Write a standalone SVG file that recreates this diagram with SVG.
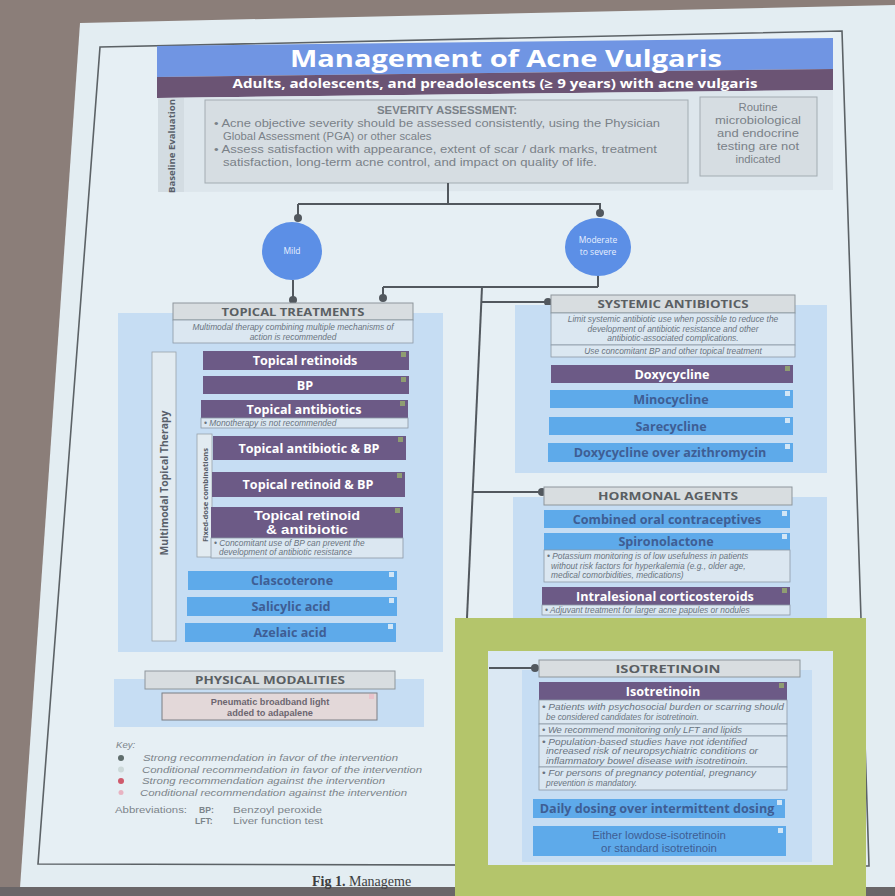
<svg xmlns="http://www.w3.org/2000/svg" width="895" height="896" viewBox="0 0 895 896">
<defs>
<style>
.ttl{font-family:"Open Sans","Liberation Sans",sans-serif;font-weight:700;fill:#fff;text-anchor:middle}
.hdr{fill:#d8dde0;stroke:#8e969b;stroke-width:1}
.hdrt{font-family:"Open Sans","Liberation Sans",sans-serif;font-weight:700;font-size:11px;fill:#5a5f63;text-anchor:middle}
.pur{fill:#6c5a86}
.blu{fill:#5eaaea}
.purt{font-family:"Open Sans","Liberation Sans",sans-serif;font-weight:700;font-size:12.6px;fill:#fff;text-anchor:middle}
.purt2{font-family:"Liberation Sans",Arial,sans-serif;font-weight:700;font-size:12.4px;fill:#fff;text-anchor:middle}
.blut{font-family:"Open Sans","Liberation Sans",sans-serif;font-weight:700;font-size:12.6px;fill:#3e5e94;text-anchor:middle}
.blur2{font-family:"Liberation Sans",Arial,sans-serif;font-size:11.4px;fill:#3e5e94;text-anchor:middle}
.note{fill:#dbe7f1;stroke:#8c9aa6;stroke-width:.8}
.notet{font-family:"Liberation Sans",Arial,sans-serif;font-style:italic;font-size:8.4px;fill:#6a7480}
.notec{text-anchor:middle}
.panel{fill:#c6ddf3}
.cn{stroke:#52585e;stroke-width:2;fill:none}
.dot{fill:#52585e}
.sqs{fill:#8f9d72}
.sqc{fill:#d2e6f6}
.body{font-family:"Liberation Sans",Arial,sans-serif;font-size:11.3px;fill:#7a8188}
.lbl{font-family:"Open Sans","Liberation Sans",sans-serif;font-weight:700;fill:#59606a;text-anchor:middle}
.key{font-family:"Liberation Sans",Arial,sans-serif;font-style:italic;font-size:9.6px;fill:#7c848a}
.abr{font-family:"Liberation Sans",Arial,sans-serif;font-size:8.6px;fill:#7c848a}
.circ{fill:#5c8fe6}
.circt{font-family:"Open Sans","Liberation Sans",sans-serif;font-size:8.5px;fill:#e8efff;text-anchor:middle}
</style>
</defs>

<!-- room behind the projected slide -->
<rect x="0" y="0" width="895" height="896" fill="#8b7e79"/>
<!-- slide paper -->
<polygon points="80,23 895,5 895,888 20,888" fill="#e3edf2"/>
<rect x="0" y="887" width="895" height="9" fill="#6a6668"/>
<!-- figure frame -->
<polygon points="100,47 842,31 869,866 38,864" fill="#e6eff4" stroke="#5c6266" stroke-width="1.6"/>

<!-- title banner -->
<g id="title">
  <polygon points="157,46 833,38 833,69 157,77" fill="#7095e3"/>
  <polygon points="157,77 833,69 833,90 157,98" fill="#6b5474"/>
  <text class="ttl" x="506" y="67" font-size="23" textLength="432" lengthAdjust="spacingAndGlyphs">Management of Acne Vulgaris</text>
  <text class="ttl" x="495" y="87.5" font-size="12" textLength="525" lengthAdjust="spacingAndGlyphs">Adults, adolescents, and preadolescents (≥ 9 years) with acne vulgaris</text>
</g>

<!-- baseline evaluation -->
<g id="baseline">
  <polygon points="158,98 833,90 833,190 158,192" fill="#dde6ec"/>
  <polygon points="158,98 184,98 184,192 158,192" fill="#d3dce2"/>
  <text class="lbl" font-size="9.6" transform="translate(175 146) rotate(-90)">Baseline Evaluation</text>
</g>
<g id="severity">
  <rect x="205" y="100" width="483" height="83" fill="#d6dde2" stroke="#a3acb2" stroke-width="1"/>
  <text class="body" x="447" y="114" text-anchor="middle" font-weight="700" fill="#6d747a" textLength="140" lengthAdjust="spacingAndGlyphs">SEVERITY ASSESSMENT:</text>
  <text class="body" x="214" y="127" textLength="446" lengthAdjust="spacingAndGlyphs">• Acne objective severity should be assessed consistently, using the Physician</text>
  <text class="body" x="223" y="140">Global Assessment (PGA) or other scales</text>
  <text class="body" x="214" y="153" textLength="443" lengthAdjust="spacingAndGlyphs">• Assess satisfaction with appearance, extent of scar / dark marks, treatment</text>
  <text class="body" x="223" y="166" textLength="374" lengthAdjust="spacingAndGlyphs">satisfaction, long-term acne control, and impact on quality of life.</text>
</g>
<g id="routine">
  <rect x="700" y="97" width="117" height="79" fill="#d6dde2" stroke="#a3acb2" stroke-width="1"/>
  <text class="body" text-anchor="middle" x="758" y="111">Routine</text>
  <text class="body" text-anchor="middle" x="758" y="124" textLength="86" lengthAdjust="spacingAndGlyphs">microbiological</text>
  <text class="body" text-anchor="middle" x="758" y="137" textLength="82" lengthAdjust="spacingAndGlyphs">and endocrine</text>
  <text class="body" text-anchor="middle" x="758" y="150" textLength="82" lengthAdjust="spacingAndGlyphs">testing are not</text>
  <text class="body" text-anchor="middle" x="758" y="163">indicated</text>
</g>

<!-- connectors -->
<g id="connectors">
  <path class="cn" d="M448 183 V203 M298 204 H601 M298 204 V217 M600 203 V213"/>
  <circle class="dot" cx="298" cy="218" r="4"/>
  <circle class="dot" cx="600" cy="213" r="4"/>
  <path class="cn" d="M293 280 V299"/>
  <circle class="dot" cx="293" cy="300" r="4"/>
  <path class="cn" d="M598 275 V287 M383 287 H598 M383 287 V297"/>
  <circle class="dot" cx="383" cy="298" r="4"/>
  <path class="cn" d="M482 287 L467 618"/>
  <path class="cn" d="M481 302 H547"/>
  <circle class="dot" cx="548" cy="302" r="4"/>
  <path class="cn" d="M473 492 H541"/>
  <circle class="dot" cx="542" cy="492" r="4"/>
</g>

<!-- severity branches -->
<g id="mild">
  <ellipse class="circ" cx="292" cy="251" rx="30" ry="29"/>
  <text class="circt" x="292" y="254">Mild</text>
</g>
<g id="moderate">
  <ellipse class="circ" cx="598" cy="247" rx="33" ry="29"/>
  <text class="circt" x="598" y="243">Moderate</text>
  <text class="circt" x="598" y="255">to severe</text>
</g>

<!-- topical treatments -->
<g id="topical">
  <rect class="panel" x="118" y="313" width="325" height="339"/>
  <rect class="hdr" x="173" y="303" width="240" height="17"/>
  <text class="hdrt" x="293" y="316" textLength="143" lengthAdjust="spacingAndGlyphs">TOPICAL TREATMENTS</text>
  <rect class="note" x="173" y="320" width="240" height="23"/>
  <text class="notet notec" x="293" y="330">Multimodal therapy combining multiple mechanisms of</text>
  <text class="notet notec" x="293" y="339.5">action is recommended</text>
  <rect x="152" y="352" width="24" height="289" fill="#e2ebf1" stroke="#98a2aa" stroke-width=".8"/>
  <text class="lbl" font-size="10.4" transform="translate(168 483) rotate(-90)">Multimodal Topical Therapy</text>
</g>
<g id="topical-retinoids">
  <rect class="pur" x="203" y="351" width="206" height="19"/>
  <rect class="sqs" x="401" y="352" width="5" height="5"/>
  <text class="purt" x="305" y="365">Topical retinoids</text>
</g>
<g id="bp">
  <rect class="pur" x="203" y="376" width="206" height="18"/>
  <rect class="sqs" x="401" y="377" width="5" height="5"/>
  <text class="purt" x="305" y="389.5">BP</text>
</g>
<g id="topical-antibiotics">
  <rect class="pur" x="201" y="400" width="207" height="18"/>
  <rect class="sqs" x="400" y="401" width="5" height="5"/>
  <text class="purt" x="304" y="413.5">Topical antibiotics</text>
  <rect class="note" x="201" y="418" width="207" height="10"/>
  <text class="notet" x="204" y="425.8">• Monotherapy is not recommended</text>
</g>
<g id="fixed-dose">
  <rect x="197" y="434" width="15" height="123" fill="#e2ebf1" stroke="#98a2aa" stroke-width=".8"/>
  <text class="lbl" font-size="7.6" transform="translate(207.5 495) rotate(-90)">Fixed-dose combinations</text>
</g>
<g id="antibiotic-bp">
  <rect class="pur" x="213" y="436" width="193" height="24"/>
  <rect class="sqs" x="398" y="437" width="5" height="5"/>
  <text class="purt" x="309" y="452.5">Topical antibiotic &amp; BP</text>
</g>
<g id="retinoid-bp">
  <rect class="pur" x="212" y="472" width="193" height="25"/>
  <rect class="sqs" x="397" y="473" width="5" height="5"/>
  <text class="purt" x="308" y="489">Topical retinoid &amp; BP</text>
</g>
<g id="retinoid-antibiotic">
  <rect class="pur" x="211" y="507" width="192" height="31"/>
  <rect class="sqs" x="395" y="508" width="5" height="5"/>
  <text class="purt2" x="307" y="519.5" textLength="106" lengthAdjust="spacingAndGlyphs">Topical retinoid</text>
  <text class="purt2" x="307" y="534" textLength="82" lengthAdjust="spacingAndGlyphs">&amp; antibiotic</text>
  <rect class="note" x="211" y="538" width="192" height="20"/>
  <text class="notet" x="214" y="546">• Concomitant use of BP can prevent the</text>
  <text class="notet" x="219" y="555">development of antibiotic resistance</text>
</g>
<g id="clascoterone">
  <rect class="blu" x="188" y="571" width="209" height="19"/>
  <rect class="sqc" x="389" y="572" width="5" height="5"/>
  <text class="blut" x="292" y="585">Clascoterone</text>
</g>
<g id="salicylic">
  <rect class="blu" x="187" y="597" width="210" height="19"/>
  <rect class="sqc" x="389" y="598" width="5" height="5"/>
  <text class="blut" x="291" y="611">Salicylic acid</text>
</g>
<g id="azelaic">
  <rect class="blu" x="185" y="623" width="211" height="19"/>
  <rect class="sqc" x="388" y="624" width="5" height="5"/>
  <text class="blut" x="290" y="637">Azelaic acid</text>
</g>

<!-- systemic antibiotics -->
<g id="systemic">
  <rect class="panel" x="515" y="305" width="312" height="168"/>
  <rect class="hdr" x="551" y="295" width="244" height="18"/>
  <text class="hdrt" x="673" y="308" textLength="151" lengthAdjust="spacingAndGlyphs">SYSTEMIC ANTIBIOTICS</text>
  <rect class="note" x="551" y="313" width="244" height="32"/>
  <text class="notet notec" x="673" y="322">Limit systemic antibiotic use when possible to reduce the</text>
  <text class="notet notec" x="673" y="331.5">development of antibiotic resistance and other</text>
  <text class="notet notec" x="673" y="341">antibiotic-associated complications.</text>
  <rect class="note" x="551" y="345" width="244" height="12"/>
  <text class="notet notec" x="673" y="353.5">Use concomitant BP and other topical treatment</text>
</g>
<g id="doxycycline">
  <rect class="pur" x="551" y="365" width="242" height="18"/>
  <rect class="sqs" x="785" y="366" width="5" height="5"/>
  <text class="purt" x="672" y="378.5">Doxycycline</text>
</g>
<g id="minocycline">
  <rect class="blu" x="550" y="390" width="243" height="18"/>
  <rect class="sqc" x="785" y="391" width="5" height="5"/>
  <text class="blut" x="671" y="403.5">Minocycline</text>
</g>
<g id="sarecycline">
  <rect class="blu" x="549" y="417" width="244" height="18"/>
  <rect class="sqc" x="785" y="418" width="5" height="5"/>
  <text class="blut" x="671" y="430.5">Sarecycline</text>
</g>
<g id="doxy-azithro">
  <rect class="blu" x="548" y="443" width="245" height="19"/>
  <rect class="sqc" x="785" y="444" width="5" height="5"/>
  <text class="blut" x="670" y="457">Doxycycline over azithromycin</text>
</g>

<!-- hormonal agents -->
<g id="hormonal">
  <rect class="panel" x="513" y="497" width="314" height="123"/>
  <rect class="hdr" x="544" y="487" width="248" height="18"/>
  <text class="hdrt" x="668" y="500" textLength="140" lengthAdjust="spacingAndGlyphs">HORMONAL AGENTS</text>
</g>
<g id="coc">
  <rect class="blu" x="544" y="510" width="246" height="18"/>
  <rect class="sqc" x="782" y="511" width="5" height="5"/>
  <text class="blut" x="667" y="523.5">Combined oral contraceptives</text>
</g>
<g id="spironolactone">
  <rect class="blu" x="544" y="533" width="246" height="17"/>
  <rect class="sqc" x="782" y="534" width="5" height="5"/>
  <text class="blut" x="666" y="546">Spironolactone</text>
  <rect class="note" x="544" y="550" width="246" height="32"/>
  <text class="notet" x="547" y="559">• Potassium monitoring is of low usefulness in patients</text>
  <text class="notet" x="551" y="568.5">without risk factors for hyperkalemia (e.g., older age,</text>
  <text class="notet" x="551" y="578">medical comorbidities, medications)</text>
</g>
<g id="intralesional">
  <rect class="pur" x="542" y="587" width="248" height="18"/>
  <rect class="sqs" x="782" y="588" width="5" height="5"/>
  <text class="purt" x="665" y="600.5">Intralesional corticosteroids</text>
  <rect class="note" x="542" y="605" width="248" height="10"/>
  <text class="notet" x="545" y="612.5">• Adjuvant treatment for larger acne papules or nodules</text>
</g>

<!-- physical modalities -->
<g id="physical">
  <rect class="panel" x="114" y="679" width="310" height="48"/>
  <rect class="hdr" x="145" y="671" width="250" height="18"/>
  <text class="hdrt" x="270" y="684" textLength="150" lengthAdjust="spacingAndGlyphs">PHYSICAL MODALITIES</text>
</g>
<g id="pneumatic">
  <rect x="162" y="693" width="215" height="27" fill="#e3d8d9" stroke="#7b7f84" stroke-width="1"/>
  <rect x="369" y="694" width="5" height="5" fill="#e9c3cb"/>
  <text x="270" y="705" text-anchor="middle" font-family="'Liberation Sans',Arial,sans-serif" font-weight="700" font-size="9.2" fill="#6c6670">Pneumatic broadband light</text>
  <text x="270" y="716" text-anchor="middle" font-family="'Liberation Sans',Arial,sans-serif" font-weight="700" font-size="9.2" fill="#6c6670">added to adapalene</text>
</g>

<!-- key and abbreviations -->
<g id="key">
  <text class="key" x="116" y="748">Key:</text>
  <circle cx="121" cy="758" r="3" fill="#5f6d6c"/>
  <text class="key" x="143" y="761" textLength="255" lengthAdjust="spacingAndGlyphs">Strong recommendation in favor of the intervention</text>
  <circle cx="121" cy="769.5" r="3" fill="#cdd9d9"/>
  <text class="key" x="142" y="772.5" textLength="280" lengthAdjust="spacingAndGlyphs">Conditional recommendation in favor of the intervention</text>
  <circle cx="121" cy="781" r="3" fill="#cf5a6c"/>
  <text class="key" x="142" y="784" textLength="243" lengthAdjust="spacingAndGlyphs">Strong recommendation against the intervention</text>
  <circle cx="121" cy="792.5" r="2.5" fill="#e8b3c2"/>
  <text class="key" x="140" y="795.5" textLength="267" lengthAdjust="spacingAndGlyphs">Conditional recommendation against the intervention</text>
  <text class="abr" x="115" y="813" textLength="72" lengthAdjust="spacingAndGlyphs">Abbreviations:</text>
  <text class="abr" x="199" y="813" font-weight="700">BP:</text>
  <text class="abr" x="233" y="813" textLength="89" lengthAdjust="spacingAndGlyphs">Benzoyl peroxide</text>
  <text class="abr" x="195" y="823.5" font-weight="700">LFT:</text>
  <text class="abr" x="233" y="823.5" textLength="90" lengthAdjust="spacingAndGlyphs">Liver function test</text>
</g>

<!-- figure caption -->
<text x="312" y="886" font-family="'Liberation Serif',serif" font-size="14" fill="#3d3d40"><tspan font-weight="700">Fig 1.</tspan> Manageme</text>

<!-- isotretinoin, shown on a green card -->
<g id="isotretinoin-card">
  <rect x="455" y="618" width="411" height="278" fill="#b4c56b"/>
  <rect x="488" y="651" width="345" height="214" fill="#dbe8f3"/>
  <rect class="panel" x="522" y="670" width="290" height="192"/>
  <path class="cn" d="M489 668 H534"/>
  <circle class="dot" cx="535" cy="668" r="4"/>
  <rect class="hdr" x="539" y="660" width="261" height="17"/>
  <text class="hdrt" x="668" y="672.5" textLength="105" lengthAdjust="spacingAndGlyphs">ISOTRETINOIN</text>
</g>
<g id="isotretinoin">
  <rect class="pur" x="539" y="682" width="248" height="18"/>
  <rect class="sqs" x="779" y="683" width="5" height="5"/>
  <text class="purt" x="663" y="695.5">Isotretinoin</text>
  <rect class="note" x="539" y="700" width="248" height="24"/>
  <text class="notet" x="542" y="710" textLength="242" lengthAdjust="spacingAndGlyphs">• Patients with psychosocial burden or scarring should</text>
  <text class="notet" x="546" y="720">be considered candidates for isotretinoin.</text>
  <rect class="note" x="539" y="724" width="248" height="12"/>
  <text class="notet" x="542" y="732.5" textLength="200" lengthAdjust="spacingAndGlyphs">• We recommend monitoring only LFT and lipids</text>
  <rect class="note" x="539" y="736" width="248" height="31"/>
  <text class="notet" x="542" y="744.5" textLength="205" lengthAdjust="spacingAndGlyphs">• Population-based studies have not identified</text>
  <text class="notet" x="546" y="754" textLength="212" lengthAdjust="spacingAndGlyphs">increased risk of neuropsychiatric conditions or</text>
  <text class="notet" x="546" y="763.5" textLength="202" lengthAdjust="spacingAndGlyphs">inflammatory bowel disease with isotretinoin.</text>
  <rect class="note" x="539" y="767" width="248" height="23"/>
  <text class="notet" x="542" y="776" textLength="214" lengthAdjust="spacingAndGlyphs">• For persons of pregnancy potential, pregnancy</text>
  <text class="notet" x="546" y="786">prevention is mandatory.</text>
</g>
<g id="daily-dosing">
  <rect class="blu" x="533" y="799" width="252" height="19"/>
  <rect class="sqc" x="777" y="800" width="5" height="5"/>
  <text class="blut" x="657" y="813">Daily dosing over intermittent dosing</text>
</g>
<g id="lowdose">
  <rect class="blu" x="533" y="826" width="253" height="30"/>
  <rect class="sqc" x="778" y="828" width="5" height="5"/>
  <text class="blur2" x="659" y="839">Either lowdose-isotretinoin</text>
  <text class="blur2" x="659" y="852">or standard isotretinoin</text>
</g>
</svg>
